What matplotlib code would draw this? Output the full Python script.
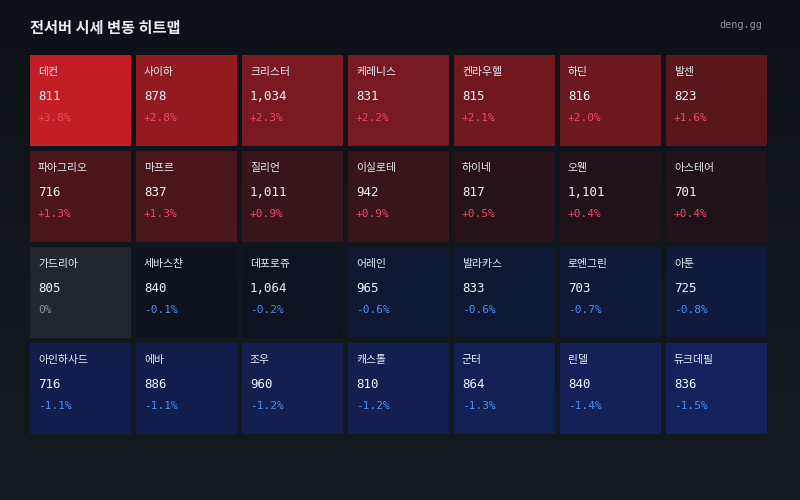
import numpy as np
import matplotlib
matplotlib.use('Agg')
import matplotlib.pyplot as plt
from matplotlib.patches import Rectangle

plt.rcParams['font.family'] = ['Noto Sans CJK KR', 'DejaVu Sans']

names = ['데컨', '사이하', '크리스터', '케레니스', '켄라우헬', '하딘', '발센',
         '파아그리오', '마프르', '질리언', '이실로테', '하이네', '오웬', '아스테어',
         '가드리아', '세바스챤', '데포로쥬', '어레인', '발라카스', '로엔그린', '아툰',
         '아인하사드', '에바', '조우', '캐스톨', '군터', '린델', '듀크데필']
prices = [811, 878, 1034, 831, 815, 816, 823,
          716, 837, 1011, 942, 817, 1101, 701,
          805, 840, 1064, 965, 833, 703, 725,
          716, 886, 960, 810, 864, 840, 836]
changes = [3.8, 2.8, 2.3, 2.2, 2.1, 2.0, 1.6,
           1.3, 1.3, 0.9, 0.9, 0.5, 0.4, 0.4,
           0.0, -0.1, -0.2, -0.6, -0.6, -0.7, -0.8,
           -1.1, -1.1, -1.2, -1.2, -1.3, -1.4, -1.5]

ncols = 7
W, H = 800, 500
x0, y0 = 30, 55
cw, ch = 101, 91
gap = 5

base = np.array([13, 17, 23]) / 255
red = np.array([194, 30, 38]) / 255
blue = np.array([28, 60, 200]) / 255
gray = np.array([34, 39, 46]) / 255
vmax = max(abs(c) for c in changes)


def tile_color(c):
    if c == 0:
        return gray
    t = abs(c) / vmax
    tgt = red if c > 0 else blue
    return base + (tgt - base) * t


def fmt_pct(c):
    if c == 0:
        return '0%'
    return '%+.1f%%' % c


fig = plt.figure(figsize=(8, 5), dpi=100)
ax = fig.add_axes([0, 0, 1, 1])
ax.set_xlim(0, W)
ax.set_ylim(H, 0)
ax.axis('off')

# fond en degrade
grad = np.linspace(0, 1, 256)[:, None, None]
top = np.array([13, 17, 23]) / 255
bot = np.array([22, 27, 34]) / 255
bg = top + (bot - top) * grad
ax.imshow(np.repeat(bg, 2, axis=1), extent=[0, W, H, 0], aspect='auto', zorder=0)

ax.text(30, 28, '전서버 시세 변동 히트맵', color='#e6edf3', fontsize=11,
        fontweight='bold', va='center', ha='left')
ax.text(762, 25, 'deng.gg', color='#8b949e', fontsize=7.3, family='DejaVu Sans Mono',
        va='center', ha='right')

for i, (n, p, c) in enumerate(zip(names, prices, changes)):
    r, k = divmod(i, ncols)
    x = x0 + k * (cw + gap)
    y = y0 + r * (ch + gap)
    ax.add_patch(Rectangle((x, y), cw, ch, facecolor=tile_color(c), edgecolor='none', zorder=1))
    ax.text(x + 8, y + 17, n, color='#e6edf3', fontsize=7.8, va='center', ha='left', zorder=2)
    ax.text(x + 8, y + 41, '{:,}'.format(p), color='#f0f6fc', fontsize=9,
            family='DejaVu Sans Mono', va='center', ha='left', zorder=2)
    if c > 0:
        pc = '#ec4a62'
    elif c < 0:
        pc = '#4a8ff0'
    else:
        pc = '#8b949e'
    ax.text(x + 8, y + 63, fmt_pct(c), color=pc, fontsize=8,
            family='DejaVu Sans Mono', va='center', ha='left', zorder=2)

fig.savefig('out.png', dpi=100, facecolor='#0d1117')
